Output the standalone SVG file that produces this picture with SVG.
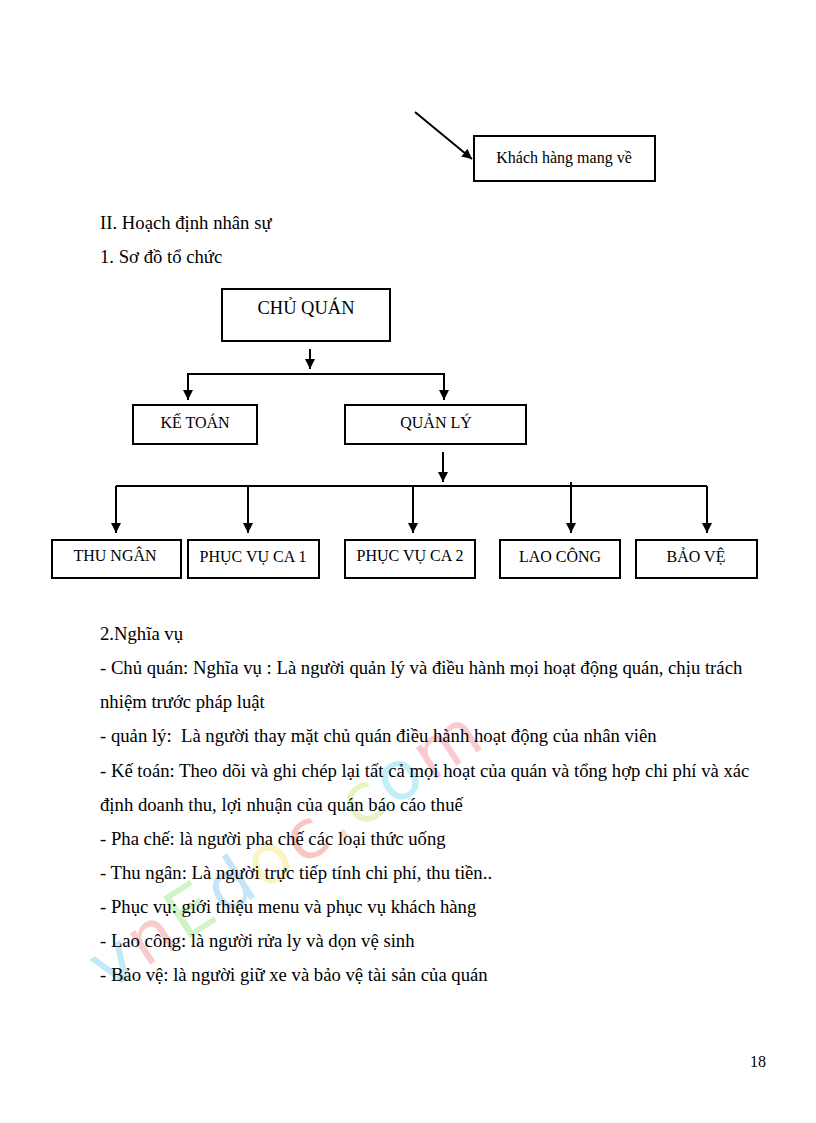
<svg xmlns="http://www.w3.org/2000/svg" width="816" height="1123" viewBox="0 0 816 1123">
<style>
.t{font-family:"Liberation Serif","Times New Roman",serif;fill:#000}
.body{font-size:18.7px}
.box{fill:#fff;stroke:#000;stroke-width:2}
.lbl{font-size:16px;text-anchor:middle}
.con{stroke:#000;stroke-width:2;fill:none}
.wm{font-family:"DejaVu Sans",sans-serif;font-size:68px;letter-spacing:4px;opacity:0.3}
</style>
<defs>
<marker id="ah" viewBox="0 0 10 10" refX="10" refY="5" markerWidth="5" markerHeight="5" orient="auto" markerUnits="strokeWidth">
<path d="M0,0 L10,5 L0,10 z" fill="#000"/>
</marker>
</defs>
<rect width="816" height="1123" fill="#fff"/>

<g id="watermark" class="wm" transform="translate(108,992) rotate(-33)">
<text><tspan fill="#33bbee">v</tspan><tspan fill="#ee5555">n</tspan><tspan fill="#66dd44">E</tspan><tspan fill="#44aaee">d</tspan><tspan fill="#eedd33">o</tspan><tspan fill="#ee4444">c</tspan><tspan fill="#ee9944">.</tspan><tspan fill="#aadd33">c</tspan><tspan fill="#33ccee">o</tspan><tspan fill="#ee5566">m</tspan></text>
</g>

<g id="connectors">
<line class="con" x1="415" y1="112" x2="472" y2="159" marker-end="url(#ah)"/>
<line class="con" x1="310" y1="349" x2="310" y2="369" marker-end="url(#ah)"/>
<polyline class="con" points="188,398 188,374 444,374 444,398" />
<line class="con" x1="188" y1="380" x2="188" y2="400" marker-end="url(#ah)"/>
<line class="con" x1="444" y1="380" x2="444" y2="400" marker-end="url(#ah)"/>
<line class="con" x1="443" y1="452" x2="443" y2="482" marker-end="url(#ah)"/>
<line class="con" x1="116" y1="486" x2="707" y2="486"/>
<line class="con" x1="116" y1="486" x2="116" y2="533" marker-end="url(#ah)"/>
<line class="con" x1="248" y1="486" x2="248" y2="533" marker-end="url(#ah)"/>
<line class="con" x1="413" y1="486" x2="413" y2="533" marker-end="url(#ah)"/>
<line class="con" x1="571" y1="482" x2="571" y2="533" marker-end="url(#ah)"/>
<line class="con" x1="707" y1="486" x2="707" y2="533" marker-end="url(#ah)"/>
</g>

<g id="node-khach">
<rect class="box" x="474" y="136" width="181" height="45"/>
<text class="t lbl" x="564" y="163" style="font-size:16px">Khách hàng mang về</text>
</g>

<text class="t body" x="100" y="229">II. Hoạch định nhân sự</text>
<text class="t body" x="100" y="263">1. Sơ đồ tổ chức</text>

<g id="node-chuquan">
<rect class="box" x="222" y="289" width="168" height="52"/>
<text class="t lbl" x="306" y="314" style="font-size:18.5px">CHỦ QUÁN</text>
</g>
<g id="node-ketoan">
<rect class="box" x="133" y="405" width="124" height="39"/>
<text class="t lbl" x="195" y="428">KẾ TOÁN</text>
</g>
<g id="node-quanly">
<rect class="box" x="345" y="405" width="181" height="39"/>
<text class="t lbl" x="436" y="428">QUẢN LÝ</text>
</g>
<g id="node-thungan">
<rect class="box" x="52" y="540" width="129" height="38"/>
<text class="t lbl" x="115" y="561">THU NGÂN</text>
</g>
<g id="node-phucvu1">
<rect class="box" x="188" y="540" width="131" height="38"/>
<text class="t lbl" x="253" y="562">PHỤC VỤ CA 1</text>
</g>
<g id="node-phucvu2">
<rect class="box" x="345" y="540" width="130" height="38"/>
<text class="t lbl" x="410" y="561">PHỤC VỤ CA 2</text>
</g>
<g id="node-laocong">
<rect class="box" x="500" y="540" width="120" height="38"/>
<text class="t lbl" x="560" y="562">LAO CÔNG</text>
</g>
<g id="node-baove">
<rect class="box" x="636" y="540" width="121" height="38"/>
<text class="t lbl" x="696" y="562">BẢO VỆ</text>
</g>

<g id="text-body" class="t body">
<text x="100" y="640">2.Nghĩa vụ</text>
<text x="100" y="674">- Chủ quán: Nghĩa vụ : Là người quản lý và điều hành mọi hoạt động quán, chịu trách</text>
<text x="100" y="708">nhiệm trước pháp luật</text>
<text x="100" y="742" xml:space="preserve">- quản lý:  Là người thay mặt chủ quán điều hành hoạt động của nhân viên</text>
<text x="100" y="777">- Kế toán: Theo dõi và ghi chép lại tất cả mọi hoạt của quán và tổng hợp chi phí và xác</text>
<text x="100" y="811">định doanh thu, lợi nhuận của quán báo cáo thuế</text>
<text x="100" y="845">- Pha chế: là người pha chế các loại thức uống</text>
<text x="100" y="879">- Thu ngân: Là người trực tiếp tính chi phí, thu tiền..</text>
<text x="100" y="913">- Phục vụ: giới thiệu menu và phục vụ khách hàng</text>
<text x="100" y="947">- Lao công: là người rửa ly và dọn vệ sinh</text>
<text x="100" y="981">- Bảo vệ: là người giữ xe và bảo vệ tài sản của quán</text>
</g>
<text class="t" x="750" y="1067" style="font-size:16px">18</text>
</svg>
